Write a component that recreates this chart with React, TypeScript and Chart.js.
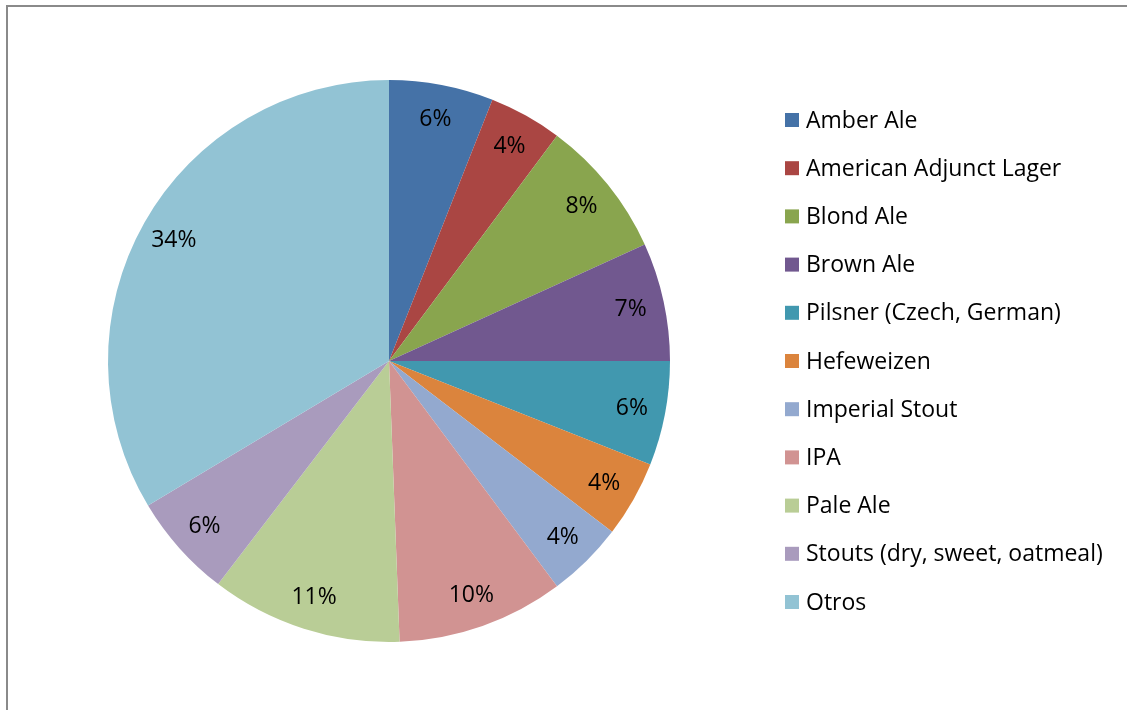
import React, { useEffect, useRef } from "react";
import { Chart, registerables } from "chart.js";

Chart.register(...registerables);

const categories = [
  "Amber Ale",
  "American Adjunct Lager",
  "Blond Ale",
  "Brown Ale",
  "Pilsner (Czech, German)",
  "Hefeweizen",
  "Imperial Stout",
  "IPA",
  "Pale Ale",
  "Stouts (dry, sweet, oatmeal)",
  "Otros",
];
const shares = [6.0, 4.2, 8.0, 6.8, 6.0, 4.4, 4.4, 9.6, 11.0, 6.0, 33.6];
const colors = [
  "#4572A7",
  "#AA4643",
  "#89A54E",
  "#71588F",
  "#4198AF",
  "#DB843D",
  "#93A9CF",
  "#D19392",
  "#B9CD96",
  "#A99BBD",
  "#92C3D4",
];

const FONT = "'Open Sans', Lato, sans-serif";

const labelPlugin = {
  id: "pctLabels",
  afterDatasetsDraw(chart: any) {
    const ctx = chart.ctx;
    const meta = chart.getDatasetMeta(0);
    const total = shares.reduce((a, b) => a + b, 0);
    ctx.save();
    ctx.font = `23px ${FONT}`;
    ctx.fillStyle = "#000";
    ctx.textAlign = "center";
    ctx.textBaseline = "middle";
    meta.data.forEach((arc: any, i: number) => {
      const p = arc.getProps(["x", "y", "startAngle", "endAngle", "outerRadius"], true);
      const mid = (p.startAngle + p.endAngle) / 2;
      const r = p.outerRadius * 0.88;
      const x = p.x + Math.cos(mid) * r;
      const y = p.y + Math.sin(mid) * r;
      ctx.fillText(Math.round((shares[i] / total) * 100) + "%", x, y + 1);
    });
    ctx.restore();
  },
};

const legendPlugin = {
  id: "customLegend",
  afterDraw(chart: any) {
    const ctx = chart.ctx;
    ctx.save();
    ctx.font = `23px ${FONT}`;
    ctx.textBaseline = "middle";
    ctx.textAlign = "left";
    categories.forEach((c, i) => {
      const y = 120 + i * 48.2;
      ctx.fillStyle = colors[i];
      ctx.fillRect(785, y - 7, 14, 14);
      ctx.fillStyle = "#000";
      ctx.fillText(c, 806, y + 1);
    });
    ctx.restore();
  },
};

export default function App() {
  const ref = useRef<HTMLCanvasElement | null>(null);
  useEffect(() => {
    if (!ref.current) return;
    const chart = new Chart(ref.current, {
      type: "pie",
      data: {
        labels: categories,
        datasets: [
          {
            data: shares,
            backgroundColor: colors,
            borderWidth: 0,
          },
        ],
      },
      options: {
        animation: false,
        responsive: false,
        maintainAspectRatio: false,
        layout: { padding: { left: 108, right: 457, top: 80, bottom: 68 } },
        plugins: {
          legend: { display: false },
          tooltip: { enabled: false },
        },
      },
      plugins: [labelPlugin, legendPlugin],
    });
    return () => chart.destroy();
  }, []);
  return (
    <div style={{ position: "fixed", left: 0, top: 0, width: 1127, height: 710, background: "#fff" }}>
      <div
        style={{
          position: "absolute",
          left: 6,
          top: 5,
          width: 1200,
          height: 800,
          borderLeft: "2px solid #8a8a8a",
          borderTop: "2px solid #8a8a8a",
        }}
      />
      <canvas ref={ref} width={1127} height={710} style={{ position: "absolute", left: 0, top: 0 }} />
    </div>
  );
}
